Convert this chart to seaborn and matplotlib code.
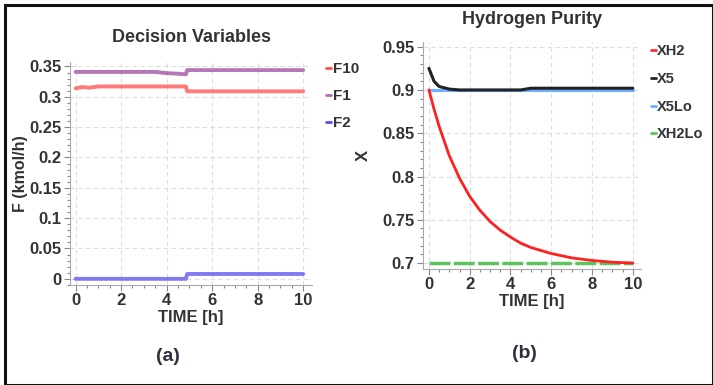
import numpy as np
import pandas as pd
import matplotlib.pyplot as plt
import seaborn as sns
from matplotlib.patches import Rectangle
from matplotlib.lines import Line2D
from matplotlib.ticker import MultipleLocator

# Decision variables (left panel)
t_f = [0, 0.3, 0.6, 1, 2, 3, 3.5, 4, 4.5, 4.85, 4.9, 5, 6, 7, 8, 9, 10]
f10 = [0.314, 0.316, 0.315, 0.317, 0.317, 0.317, 0.317, 0.317, 0.317, 0.317, 0.309, 0.309, 0.309, 0.309, 0.309, 0.309, 0.309]
f1 = [0.341, 0.341, 0.341, 0.341, 0.341, 0.341, 0.341, 0.339, 0.338, 0.337, 0.344, 0.344, 0.344, 0.344, 0.344, 0.344, 0.344]
f2 = [0.0, 0.0, 0.0, 0.0, 0.0, 0.0, 0.0, 0.0, 0.0, 0.0, 0.008, 0.008, 0.008, 0.008, 0.008, 0.008, 0.008]

# Hydrogen purity (right panel)
t_x = [0, 0.25, 0.5, 1, 1.5, 2, 2.5, 3, 3.5, 4, 4.5, 5, 6, 7, 8, 9, 10]
xh2 = [0.900, 0.878, 0.858, 0.824, 0.798, 0.777, 0.761, 0.748, 0.738, 0.730, 0.723, 0.718, 0.711, 0.706, 0.703, 0.701, 0.700]
x5 = [0.925, 0.910, 0.904, 0.901, 0.900, 0.900, 0.900, 0.900, 0.900, 0.900, 0.900, 0.902, 0.902, 0.902, 0.902, 0.902, 0.902]
x5lo = [0.9] * len(t_x)
xh2lo = [0.7] * len(t_x)

sns.set_style("white", {'xtick.bottom': True, 'ytick.left': True})
plt.rcParams['font.family'] = ['Liberation Sans', 'DejaVu Sans']
plt.rcParams['font.weight'] = 'bold'
plt.rcParams['axes.labelweight'] = 'bold'
plt.rcParams['axes.titleweight'] = 'bold'
plt.rcParams['xtick.minor.size'] = 2.5
plt.rcParams['ytick.minor.size'] = 2.5
plt.rcParams['xtick.major.size'] = 4
plt.rcParams['ytick.major.size'] = 4
txt = '#333333'

fig = plt.figure(figsize=(7.13, 3.85), dpi=100)
ax1 = fig.add_axes([0.098, 0.26, 0.34, 0.58])
ax2 = fig.add_axes([0.593, 0.301, 0.306, 0.589])

df1 = pd.DataFrame({'t': t_f, 'F10': f10, 'F1': f1, 'F2': f2}).melt('t', var_name='var', value_name='F')
df2 = pd.DataFrame({'t': t_x, 'XH2': xh2, 'X5': x5, 'X5Lo': x5lo, 'XH2Lo': xh2lo}).melt('t', var_name='var', value_name='X')

sns.lineplot(data=df1, x='t', y='F', hue='var', ax=ax1, lw=2.8, alpha=0.75,
             palette={'F10': '#ff4d4d', 'F1': '#9b4aa0', 'F2': '#5a4df0'}, legend=False)
sns.lineplot(data=df2[df2['var'] == 'XH2Lo'], x='t', y='X', ax=ax2, lw=2.5, color='#5cc45c', dashes=(6, 1), legend=False)
sns.lineplot(data=df2[df2['var'] == 'X5Lo'], x='t', y='X', ax=ax2, lw=2.3, color='#6fb0ff', legend=False)
sns.lineplot(data=df2[df2['var'] == 'XH2'], x='t', y='X', ax=ax2, lw=2, color='#ff2020', legend=False)
sns.lineplot(data=df2[df2['var'] == 'X5'], x='t', y='X', ax=ax2, lw=2.2, color='#222222', legend=False)

for ax in (ax1, ax2):
    ax.grid(True, which='major', color='#dddddd', ls=(0, (4, 3)), lw=0.8)
    for s in ('top', 'right'):
        ax.spines[s].set_visible(False)
    for s in ('left', 'bottom'):
        ax.spines[s].set_color('#aaaaaa')
    ax.set_xticks([0, 2, 4, 6, 8, 10])
    ax.xaxis.set_minor_locator(MultipleLocator(0.5))
    ax.tick_params(which='both', bottom=True, left=True, colors='#888888', labelcolor=txt, labelsize=12, pad=2)
    ax.tick_params(which='minor', width=0.8)
    ax.set_xlabel('TIME [h]', fontsize=12, color=txt, labelpad=1, fontweight='bold')

ax1.set_xlim(-0.25, 10.4)
ax1.set_ylim(-0.01, 0.358)
ax1.set_yticks([0, 0.05, 0.1, 0.15, 0.2, 0.25, 0.3, 0.35])
ax1.set_yticklabels(['0', '0.05', '0.1', '0.15', '0.2', '0.25', '0.3', '0.35'], fontweight='bold')
ax1.yaxis.set_minor_locator(MultipleLocator(0.01))
ax1.set_ylabel('F (kmol/h)', fontsize=11.5, color=txt, labelpad=1, fontweight='bold')
ax1.set_title('Decision Variables', fontsize=13, color=txt, pad=14, fontweight='bold')

ax2.set_xlim(-0.3, 10.4)
ax2.set_ylim(0.693, 0.955)
ax2.set_yticks([0.7, 0.75, 0.8, 0.85, 0.9, 0.95])
ax2.set_yticklabels(['0.7', '0.75', '0.8', '0.85', '0.9', '0.95'], fontweight='bold')
ax2.yaxis.set_minor_locator(MultipleLocator(0.01))
ax2.set_ylabel('X', fontsize=12, color=txt, labelpad=8, fontweight='bold')
ax2.set_title('Hydrogen Purity', fontsize=13, color=txt, pad=13, fontweight='bold')

for ax in (ax1, ax2):
    for lab in ax.get_xticklabels() + ax.get_yticklabels():
        lab.set_fontweight('bold')

# legends
h1 = [Line2D([], [], color=c, lw=2) for c in ('#ff4d4d', '#b070b5', '#5a4df0')]
fig.legend(h1, ['F10', 'F1', 'F2'], loc='upper left', bbox_to_anchor=(0.438, 0.875), frameon=False,
           handlelength=0.35, handletextpad=0.1, labelspacing=0.85, prop={'size': 11, 'weight': 'bold'}, labelcolor=txt)
h2 = [Line2D([], [], color=c, lw=2) for c in ('#ff3030', '#222222', '#6fb0ff', '#5cc45c')]
fig.legend(h2, ['XH2', 'X5', 'X5Lo', 'XH2Lo'], loc='upper left', bbox_to_anchor=(0.894, 0.92), frameon=False,
           handlelength=0.35, handletextpad=0.1, labelspacing=0.95, prop={'size': 10.5, 'weight': 'bold'}, labelcolor=txt)

fig.text(0.236, 0.075, '(a)', fontsize=14, color='#2e3040', ha='center', va='center', fontweight='bold')
fig.text(0.736, 0.083, '(b)', fontsize=14, color='#2e3040', ha='center', va='center', fontweight='bold')

fig.patches.append(Rectangle((0.007, 0.0), 0.993, 0.988, transform=fig.transFigure, fill=False,
                             ec='#111111', lw=2.2))

fig.savefig('out.png', dpi=100)
